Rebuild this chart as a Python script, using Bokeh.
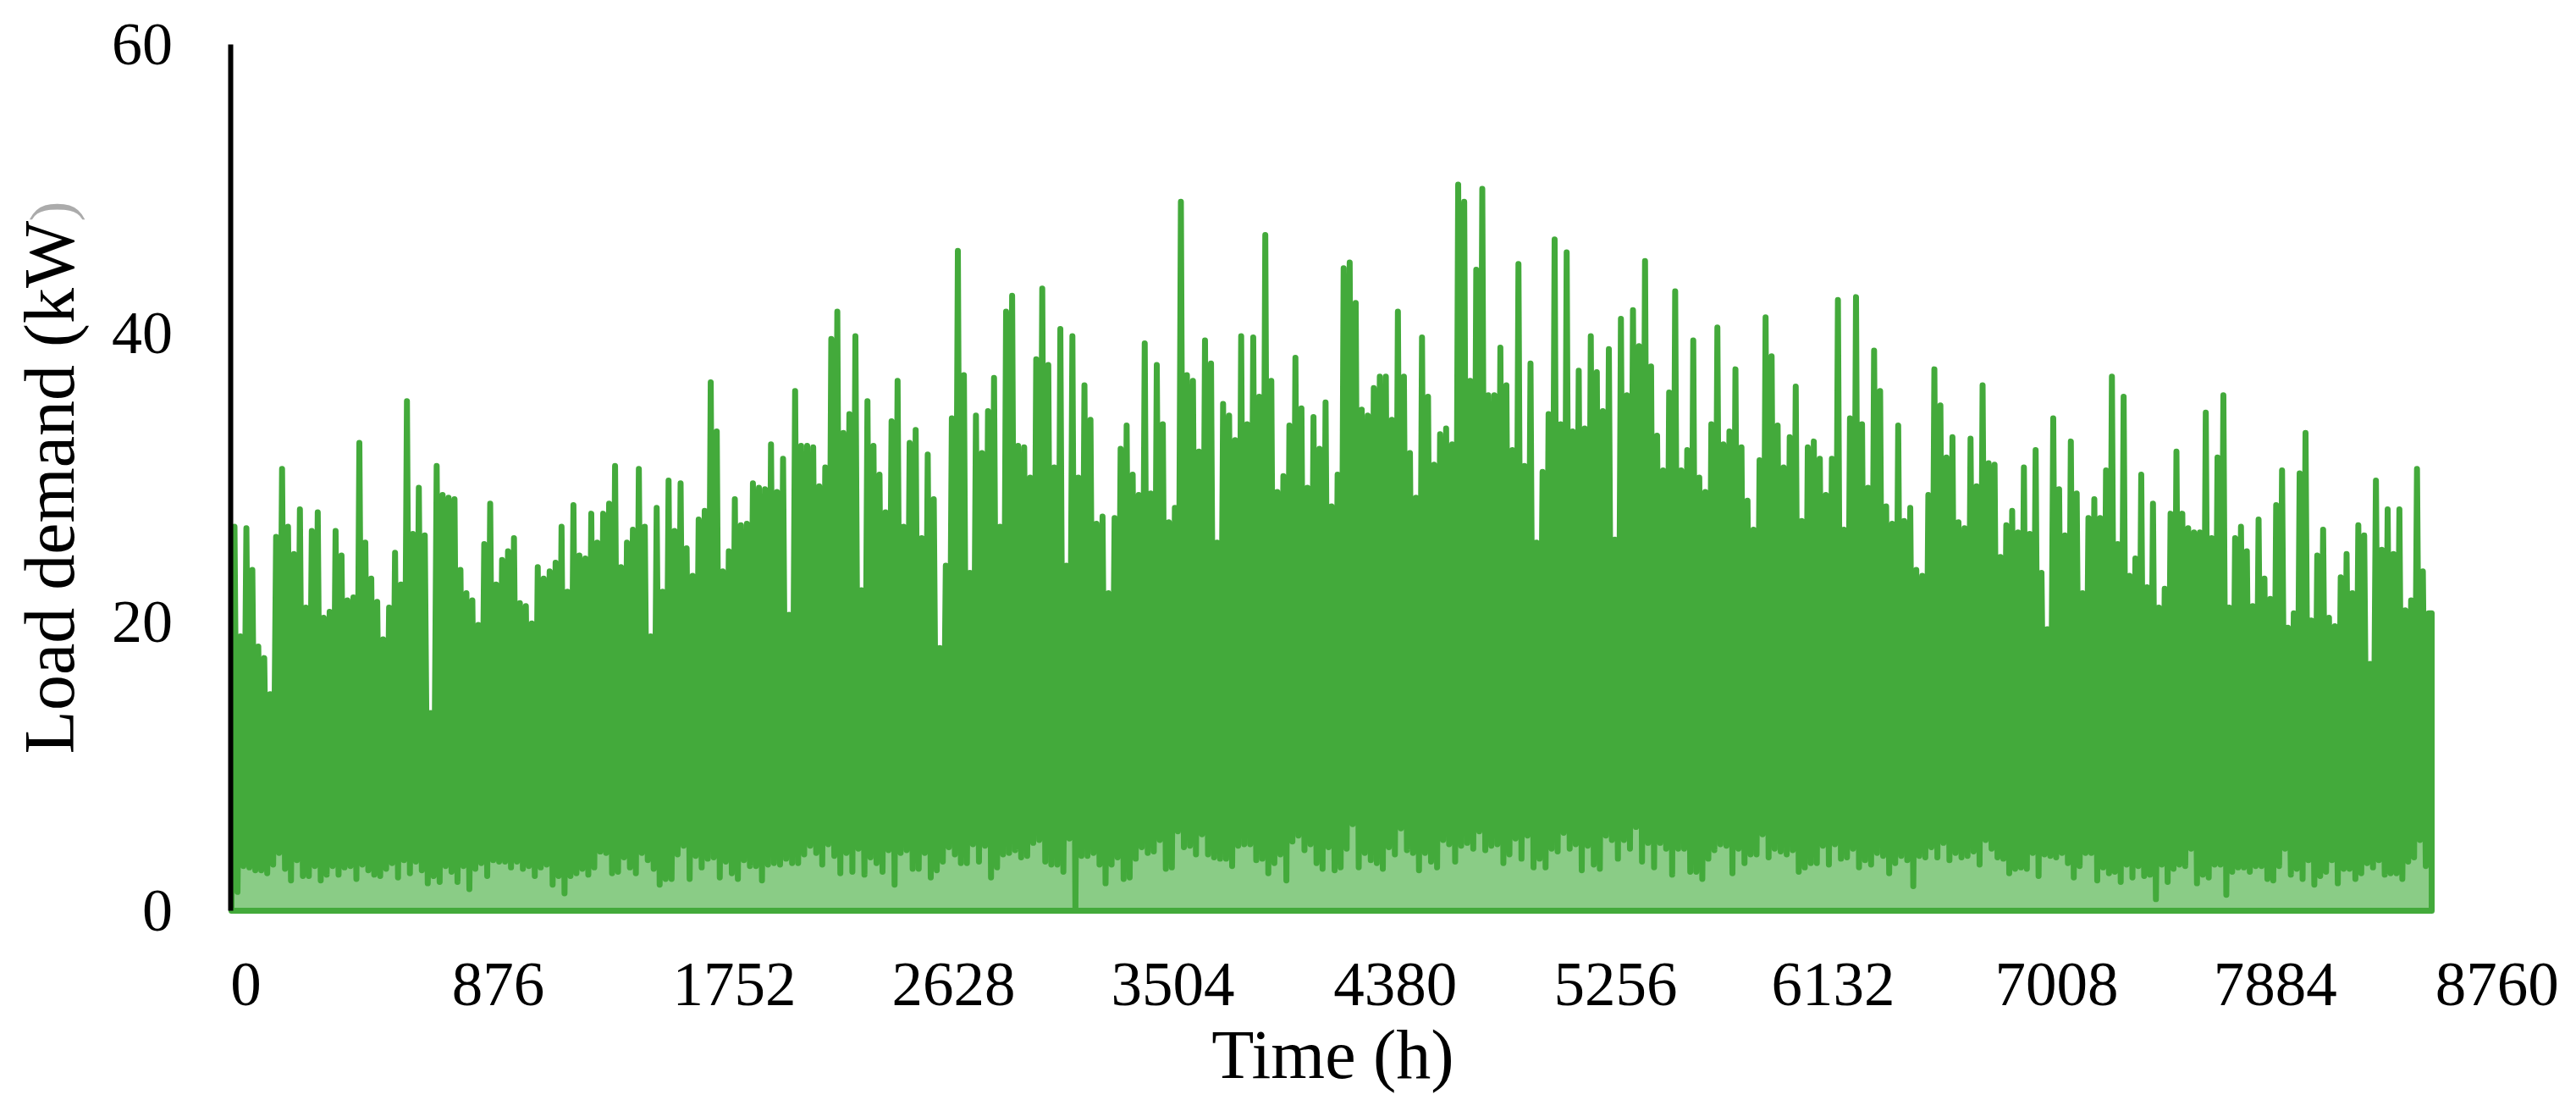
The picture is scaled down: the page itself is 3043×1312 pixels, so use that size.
import numpy as np
from bokeh.embed import file_html
from bokeh.models import ColumnDataSource, FixedTicker, Label, Range1d
from bokeh.plotting import figure
from bokeh.resources import INLINE

YEAR_HOURS = 8760

peaks_1 = [26.6,19.0,26.5,23.6,18.3,17.5,15.0,25.9,30.6,26.6,24.7,27.8,21.0,26.3,27.6,20.3,20.7,26.3,24.6,21.5,21.7,32.4,25.5,23.0,21.4,18.8,21.0,24.8,22.6,35.3,26.1,29.3,26.0,13.7,30.8,28.8,28.6,28.5,23.6,22.0,21.5,19.8,25.4,28.2,22.6,24.3,24.9,25.8,21.3,21.1,19.9,23.8,23.0,23.5,24.1,26.6,22.1,28.1,24.6,24.4,27.5,25.5,27.5,28.2,30.8,23.8,25.5,26.4,30.6,26.6,19.0,27.9,22.1,29.8]
peaks_2 = [26.3,29.6,25.1,23.2,27.1,27.7,36.6,33.2,23.5,24.9,28.5,26.7,26.8,29.6,29.3,29.2,32.3,29.0,31.3,20.5,36.0,32.2,32.2,32.1,29.4,30.7,39.6,41.5,33.1,34.4,39.8,22.2,35.3,32.2,30.2,27.6,33.9,36.7,26.6,32.4,33.3,25.8,31.6,28.5,18.2,23.9,34.1,45.7,37.1,23.4,34.3,31.7,34.6,36.9,26.6,41.5,42.6,32.2,32.1,30.0,38.2,43.1,37.8,30.7,40.3,23.9,39.8,30.0,36.4,34.0,26.8,27.3,22.0]
peaks_3 = [27.2,32.0,33.6,30.2,28.8,39.3,28.9,37.8,33.7,26.9,27.9,49.1,37.1,36.7,31.8,39.5,37.9,25.5,35.1,34.3,32.6,39.8,33.7,39.7,35.6,46.8,36.7,29.0,30.1,33.6,38.3,34.8,29.3,34.2,32.0,35.2,28.0,30.2,44.5,44.9,42.1,34.7,34.3,36.2,37.0,37.0,34.0,41.5,37.0,31.7,28.6,39.7,35.6,30.9,33.0,33.4,32.3,50.3,49.1,36.7,44.4,50.0,35.7,35.7,39.0,36.4,31.9,44.8,30.8,37.9,25.5,30.4,34.4]
peaks_4 = [46.5,33.7,45.6,33.2,37.4,33.4,39.8,37.3,34.6,38.9,25.7,41.0,35.7,41.6,39.1,45.0,37.7,32.9,30.5,35.9,42.9,30.5,31.9,39.5,30.0,29.0,33.7,40.4,32.3,33.2,37.5,32.1,28.4,26.4,31.2,41.1,38.4,33.6,30.7,32.8,36.3,27.0,32.1,32.5,31.3,28.8,31.3,42.3,26.4,34.1,42.5,33.7,29.3,38.8,36.0,28.0,26.8,33.6,27.0,27.9,23.6,23.2,28.8,37.5,35.0,31.4,32.8,26.9,26.5,32.7,29.4,36.4,31.0]
peaks_5 = [30.9,24.5,26.7,27.7,26.2,30.7,26.1,31.9,23.4,19.5,34.1,29.2,26.0,32.5,28.9,22.0,27.2,28.5,27.2,30.5,37.0,25.4,35.6,23.2,24.4,30.2,22.4,28.2,21.0,22.3,27.5,31.8,27.5,26.5,26.2,26.2,34.5,25.8,31.4,35.7,21.0,25.8,26.6,24.9,21.1,27.1,23.0,21.6,28.1,30.5,19.6,20.6,30.3,33.1,20.1,24.6,26.4,20.3,19.7,23.1,24.7,22.0,26.7,26.0,17.1,29.8,25.0,27.8,24.7,27.8,20.8,21.5,30.6,23.5,20.6]

troughs_1 = [1.3,3.1,3.0,2.8,2.8,2.6,3.2,4.0,2.9,2.1,3.5,2.4,2.4,3.1,2.1,2.5,3.1,2.5,3.0,3.1,2.2,3.2,2.8,2.5,2.4,2.9,3.3,2.3,3.5,2.6,3.4,2.8,1.9,2.4,2.0,3.1,2.7,2.0,3.1,1.5,2.9,3.3,2.4,3.5,3.4,3.0,3.4,2.9,3.1,2.4,3.0,3.2,1.8,2.4,1.2,2.4,2.6,2.9,2.5,3.0,4.1,4.0,2.6,2.7,3.7,3.0,2.6,4.0,3.5,2.9,1.8,2.2,2.2,3.9,4.5,2.2,3.8,3.0,3.6,3.7,2.3,3.4,2.6,2.2,3.5,3.1,3.1,2.1,3.2,3.3,3.2,3.6,3.3,3.3,3.9,4.5,4.0,3.2,4.6,3.8,2.6,4.0,2.7,4.3,2.5,3.7,3.3,2.7,4.2,1.8,4.0,4.2,2.9,2.9,4.0,2.3,2.8,3.4,4.4,3.9,3.3,4.6,3.4,4.5,2.3,3.0,3.9,4.0,4.2,3.7,3.8,4.7,4.9,3.4,3.2,3.2,2.7,5.0,0.0,3.8,3.8,4.0,3.2,1.9,3.2,3.7,2.2,2.3,3.6,4.4,4.0,4.1,4.9,2.9,3.0,5.5,4.4,4.5,3.9,5.3,3.9,3.7,3.6,3.6,3.1,4.5,4.6,4.6,3.5,3.6,2.6,3.3,3.9,2.1,4.8,5.2,4.2,4.6,3.3,2.9,4.4]
troughs_2 = [2.8,3.0,4.3,6.0,3.0,4.0,3.5,3.3,2.9,4.4,3.9,5.7,4.2,4.0,2.8,4.0,3.4,3.0,4.9,4.6,3.4,4.5,4.7,4.3,5.5,4.2,4.5,4.6,3.3,3.9,5.0,3.6,5.2,3.0,3.6,3.0,4.3,4.1,5.4,4.3,4.6,2.8,4.5,3.2,2.9,5.2,4.9,3.6,4.9,4.3,5.8,3.4,4.7,3.0,4.7,4.3,2.5,4.3,4.3,2.7,2.2,3.6,4.2,4.6,4.5,2.6,4.3,3.3,3.9,3.9,5.3,3.7,4.3,4.1,3.9,4.2,2.7,3.0,3.3,3.3,4.5,3.2,4.6,3.6,3.7,4.3,3.0,3.5,3.2,4.0,3.8,2.6,3.3,3.8,3.5,1.7,3.8,3.7,4.4,3.7,4.7,3.5,4.0,3.7,3.8,4.1,3.2,4.9,4.3,3.7,3.6,2.6,2.9,3.0,2.9,4.0,2.4,3.9,3.8,3.7,4.0,3.3,2.3,3.1,4.0,2.1,3.0,2.6,2.7,2.0,3.2,2.3,3.1,2.4,2.5,0.8,3.2,2.0,2.9,3.2,3.1,4.3,1.9,2.5,2.3,3.2,3.2,1.1,2.7,3.0,3.0,2.7,3.1,2.2,2.1,3.1,4.3,2.5,2.9,2.2,3.5,1.8,2.4,2.7,3.5,1.9,2.9,2.9,2.2,2.6,3.3,3.0,3.5,2.5,2.6,2.6,2.2,3.4,3.7,4.9,3.1]

y_ticks = [0, 20, 40, 60]
x_labels = ["0", "876", "1752", "2628", "3504", "4380", "5256", "6132", "7008", "7884", "8760"]
# The source's labels sit as free text under the plot, not under their own hours.
x_label_hours = [57, 1062, 2002, 2875, 3748, 4634, 5511, 6377, 7267, 8137, 9020]

DARK = "#43AA3B"
LIGHT = "#8ACC86"
FONT = "Liberation Serif"


def slots(chunks):
    span = YEAR_HOURS / len(chunks)
    xs, ys = [], []
    for n, chunk in enumerate(chunks):
        step = span / len(chunk)
        xs += [n * span + (i + 0.5) * step for i in range(len(chunk))]
        ys += chunk
    return np.array(xs), np.array(ys, dtype=float)


px, py = slots([peaks_1, peaks_2, peaks_3, peaks_4, peaks_5])
tx, ty = slots([troughs_1, troughs_2])

# One day's swing is one trough and one peak: walk the year peak by peak and
# drop to the lowest trough read between this peak and the next.
line_x, line_y = [0.0, 0.0], [0.0, ty[0]]
for i in range(len(px)):
    line_x.append(px[i]); line_y.append(py[i])
    if i + 1 < len(px):
        inside = (tx >= px[i]) & (tx < px[i + 1])
        low = ty[inside].min() if inside.any() else ty[np.argmin(abs(tx - px[i]))]
        line_x.append((px[i] + px[i + 1]) / 2); line_y.append(low)
line_x += [float(YEAR_HOURS), float(YEAR_HOURS), 0.0]
line_y += [py[-1], 0.0, 0.0]

source = ColumnDataSource(dict(x=line_x, y=line_y, base=[0.0] * len(line_x)))

PX_PER_HOUR = 2599 / YEAR_HOURS
PX_PER_KW = 1023 / 60
WIDTH, HEIGHT = 3027, 1296


def hour_at(sx):
    return (sx - 273) / PX_PER_HOUR


def kw_at(sy):
    return (1075 - sy) / PX_PER_KW


# The frame fills the page, so that the axis titles (free text here) are not clipped.
p = figure(
    width=WIDTH, height=HEIGHT, output_backend="svg", toolbar_location=None,
    x_range=Range1d(hour_at(0), hour_at(WIDTH)),
    y_range=Range1d(kw_at(HEIGHT), kw_at(0)),
    min_border_left=0, min_border_right=0, min_border_top=0, min_border_bottom=0,
    outline_line_color=None, background_fill_color="white", border_fill_color="white",
)
p.grid.visible = False

p.varea(x="x", y1="base", y2="y", source=source, fill_color=LIGHT, fill_alpha=1)
p.line(x="x", y="y", source=source, line_color=DARK, line_width=7,
       line_join="round", line_cap="round")

yax = p.yaxis[0]
yax.fixed_location = hour_at(271.5)
yax.ticker = FixedTicker(ticks=y_ticks)
yax.bounds = (0, 60)
yax.axis_line_color = "black"
yax.axis_line_width = 6
yax.major_tick_line_color = None
yax.minor_tick_line_color = None
yax.major_label_text_font = FONT
yax.major_label_text_font_size = "72px"
yax.major_label_text_color = "black"
yax.major_label_standoff = 62

xax = p.xaxis[0]
xax.fixed_location = kw_at(1099)
xax.ticker = FixedTicker(ticks=x_label_hours)
xax.major_label_overrides = dict(zip(x_label_hours, x_labels))
xax.axis_line_color = None
xax.major_tick_line_color = None
xax.minor_tick_line_color = None
xax.major_label_text_font = FONT
xax.major_label_text_font_size = "73px"
xax.major_label_text_color = "black"
xax.major_label_standoff = 32

p.add_layout(Label(x=hour_at(1574), y=kw_at(1245), text="Time (h)", text_font=FONT, text_font_size="82px",
                   text_color="black", text_align="center", text_baseline="middle"))
p.add_layout(Label(x=hour_at(58), y=kw_at(575), text="Load demand (kW", angle=np.pi / 2,
                   text_font=FONT, text_font_size="84px",
                   text_color="black", text_align="center", text_baseline="middle"))
p.add_layout(Label(x=hour_at(60), y=kw_at(249), text=")", angle=np.pi / 2,
                   text_font=FONT, text_font_size="72px",
                   text_color="#ABABAB", text_align="center", text_baseline="middle"))

open("out.html", "w").write(file_html(p, INLINE))
